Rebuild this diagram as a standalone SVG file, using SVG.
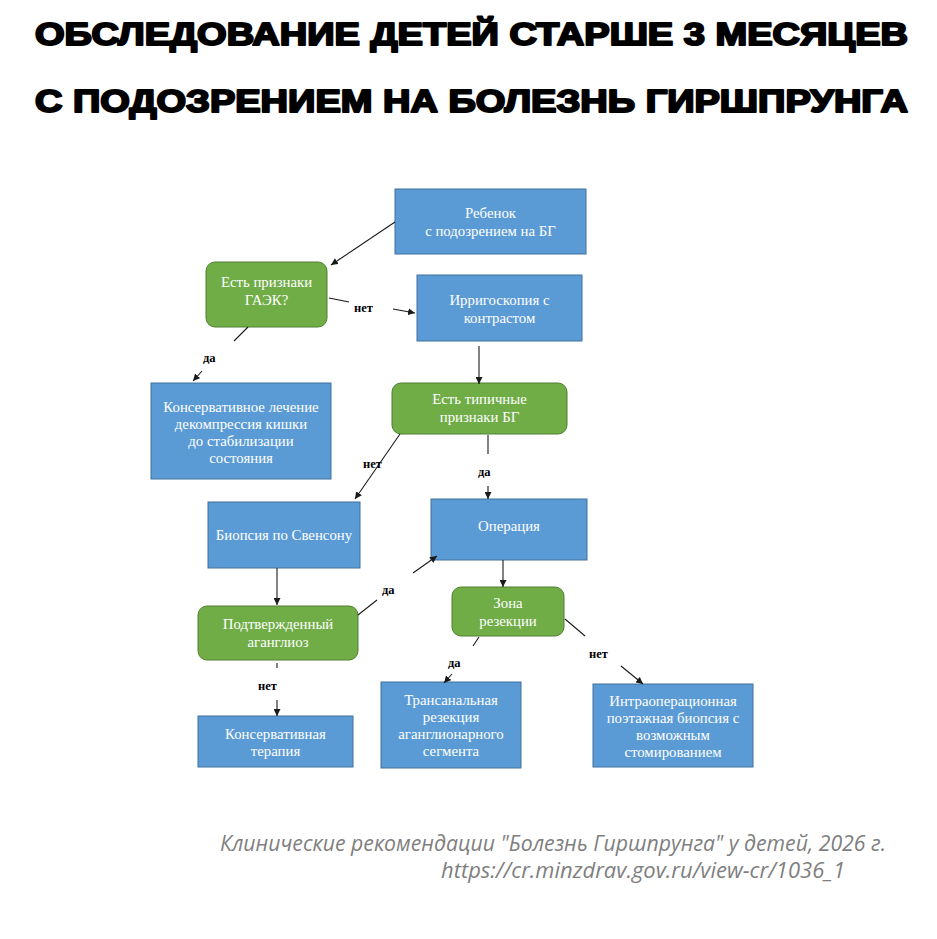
<svg xmlns="http://www.w3.org/2000/svg" width="937" height="939" viewBox="0 0 937 939">
<style>
.title{font-family:"Liberation Sans","DejaVu Sans",sans-serif;font-weight:bold;font-size:31px;fill:#000;stroke:#000;stroke-width:2;stroke-linejoin:round}
.blue{fill:#5B9BD5;stroke:#41719C;stroke-width:1}
.green{fill:#70AD47;stroke:#507E32;stroke-width:1}
.nt{font-family:"Liberation Serif","Times New Roman",serif;font-size:14.8px;fill:#fff;text-anchor:middle}
.lbl{font-family:"Liberation Serif","Times New Roman",serif;font-size:12.5px;fill:#000;font-weight:bold}
.ln{stroke:#1a1a1a;stroke-width:1.1;fill:none}
.arr{stroke:#1a1a1a;stroke-width:1.1;fill:none;marker-end:url(#ah)}
.foot{font-family:"Open Sans","Noto Sans",sans-serif;font-style:italic;font-size:21.5px;fill:#7f7f7f}
</style>
<defs>
<marker id="ah" viewBox="0 0 10 10" refX="10" refY="5" markerWidth="7" markerHeight="7" markerUnits="userSpaceOnUse" orient="auto">
<path d="M0,0 L10,5 L0,10 z" fill="#1a1a1a"/>
</marker>
</defs>
<rect width="937" height="939" fill="#fff"/>
<text class="title" x="35" y="45" textLength="873" lengthAdjust="spacingAndGlyphs">ОБСЛЕДОВАНИЕ ДЕТЕЙ СТАРШЕ 3 МЕСЯЦЕВ</text>
<text class="title" x="35" y="112" textLength="873" lengthAdjust="spacingAndGlyphs">С ПОДОЗРЕНИЕМ НА БОЛЕЗНЬ ГИРШПРУНГА</text>

<g id="n1"><rect class="blue" x="395" y="189" width="191" height="65"/>
<text class="nt" x="490.5" y="218">Ребенок</text><text class="nt" x="490.5" y="236">с подозрением на БГ</text></g>

<g id="n2"><rect class="green" x="206" y="262" width="121" height="65" rx="9"/>
<text class="nt" x="266.5" y="287">Есть признаки</text><text class="nt" x="266.5" y="305">ГАЭК?</text></g>

<g id="n3"><rect class="blue" x="417" y="275" width="165" height="66"/>
<text class="nt" x="499.5" y="305">Ирригоскопия с</text><text class="nt" x="499.5" y="323">контрастом</text></g>

<g id="n4"><rect class="blue" x="151" y="383" width="180" height="96"/>
<text class="nt" x="241" y="412">Консервативное лечение</text><text class="nt" x="241" y="429">декомпрессия кишки</text><text class="nt" x="241" y="446">до стабилизации</text><text class="nt" x="241" y="463">состояния</text></g>

<g id="n5"><rect class="green" x="392" y="383" width="175" height="51" rx="9"/>
<text class="nt" x="479.5" y="404">Есть типичные</text><text class="nt" x="479.5" y="422">признаки БГ</text></g>

<g id="n6"><rect class="blue" x="208" y="502" width="152" height="66"/>
<text class="nt" x="284" y="540">Биопсия по Свенсону</text></g>

<g id="n7"><rect class="blue" x="431" y="499" width="156" height="61"/>
<text class="nt" x="509" y="531">Операция</text></g>

<g id="n8"><rect class="green" x="198" y="606" width="160" height="54" rx="9"/>
<text class="nt" x="278" y="629">Подтвержденный</text><text class="nt" x="278" y="647">аганглиоз</text></g>

<g id="n9"><rect class="green" x="452" y="587" width="112" height="49" rx="9"/>
<text class="nt" x="508" y="608">Зона</text><text class="nt" x="508" y="626">резекции</text></g>

<g id="n10"><rect class="blue" x="198" y="716" width="155" height="51"/>
<text class="nt" x="275.5" y="739">Консервативная</text><text class="nt" x="275.5" y="756">терапия</text></g>

<g id="n11"><rect class="blue" x="381" y="682" width="140" height="86"/>
<text class="nt" x="451" y="705">Трансанальная</text><text class="nt" x="451" y="722">резекция</text><text class="nt" x="451" y="739">аганглионарного</text><text class="nt" x="451" y="756">сегмента</text></g>

<g id="n12"><rect class="blue" x="593" y="684" width="160" height="83"/>
<text class="nt" x="673" y="706">Интраоперационная</text><text class="nt" x="673" y="723">поэтажная биопсия с</text><text class="nt" x="673" y="740">возможным</text><text class="nt" x="673" y="757">стомированием</text></g>

<g id="connectors">
<line class="arr" x1="395" y1="222" x2="331" y2="265"/>
<line class="ln" x1="329" y1="298" x2="349" y2="302"/>
<line class="arr" x1="393" y1="309" x2="415" y2="313"/>
<line class="ln" x1="248" y1="327" x2="234" y2="341"/>
<line class="arr" x1="202" y1="371" x2="193" y2="381"/>
<line class="arr" x1="479" y1="346" x2="479" y2="384"/>
<line class="arr" x1="400" y1="434" x2="355" y2="499"/>
<line class="ln" x1="488" y1="435" x2="488" y2="454"/>
<line class="arr" x1="488" y1="486" x2="488" y2="499"/>
<line class="arr" x1="277" y1="568" x2="277" y2="605"/>
<line class="ln" x1="358" y1="615" x2="377" y2="600"/>
<line class="arr" x1="413" y1="573" x2="437" y2="556"/>
<line class="ln" x1="277" y1="663" x2="277" y2="668"/>
<line class="arr" x1="277" y1="700" x2="277" y2="716"/>
<line class="arr" x1="503" y1="560" x2="503" y2="587"/>
<line class="ln" x1="479" y1="637" x2="473" y2="646"/>
<line class="arr" x1="452" y1="674" x2="444" y2="683"/>
<line class="ln" x1="565" y1="619" x2="585" y2="636"/>
<line class="arr" x1="621" y1="666" x2="643" y2="684"/>
<text class="lbl" x="354" y="312">нет</text>
<text class="lbl" x="203" y="362">да</text>
<text class="lbl" x="363" y="468">нет</text>
<text class="lbl" x="478" y="476">да</text>
<text class="lbl" x="382" y="594">да</text>
<text class="lbl" x="258" y="690">нет</text>
<text class="lbl" x="448" y="667">да</text>
<text class="lbl" x="589" y="658">нет</text>
</g>

<text class="foot" x="220" y="851" textLength="666" lengthAdjust="spacingAndGlyphs">Клинические рекомендации "Болезнь Гиршпрунга" у детей, 2026 г.</text>
<text class="foot" x="441" y="878" textLength="404" lengthAdjust="spacingAndGlyphs">https://cr.minzdrav.gov.ru/view-cr/1036_1</text>
</svg>
